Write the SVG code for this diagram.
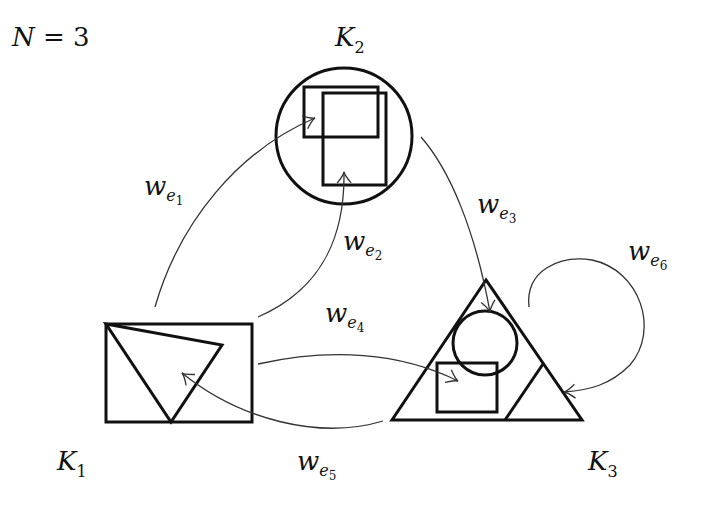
<svg xmlns="http://www.w3.org/2000/svg" width="705" height="516" viewBox="0 0 705 516">
<style>
.s{fill:none;stroke:#111;stroke-width:3}
.c{fill:none;stroke:#333;stroke-width:1.3;marker-end:url(#a)}
.t{font-family:"DejaVu Serif","Liberation Serif",serif;font-style:italic;font-size:26px;fill:#111}
.u{font-family:"DejaVu Serif","Liberation Serif",serif;font-style:italic;font-size:16px;fill:#111}
.d{font-style:normal;font-size:12px}
.n{font-family:"DejaVu Serif","Liberation Serif",serif;font-style:normal;font-size:26px;fill:#111}
</style>
<defs><marker id="a" viewBox="-12 -8 14 16" refX="0" refY="0" markerWidth="14" markerHeight="16" markerUnits="userSpaceOnUse" orient="auto"><path d="M-11,-7 Q-4,-1 0,0 Q-4,1 -11,7" fill="none" stroke="#333" stroke-width="1.3"/></marker></defs>
<rect width="705" height="516" fill="#fff"/>
<g id="K2"><circle class="s" cx="344" cy="136" r="68"/><rect class="s" x="304" y="87" width="74" height="50"/><rect class="s" x="323" y="93" width="63" height="92"/></g>
<g id="K1"><rect class="s" x="106" y="324" width="146" height="98"/><path class="s" d="M106,324 L222,345 L171,422 Z"/></g>
<g id="K3"><path class="s" d="M486,280 L392,420 L582,420 Z"/><circle class="s" cx="485" cy="343" r="32"/><rect class="s" x="437" y="363" width="60" height="49"/><path class="s" d="M505,420 L543,364"/></g>
<g id="connectors">
<path class="c" d="M155,307 C180,220 240,150 315,118"/>
<path class="c" d="M258,317 C320,290 345,240 344,172"/>
<path class="c" d="M421,137 C450,170 475,230 490,312"/>
<path class="c" d="M529,307 C525,270 560,255 592,260 C640,270 660,330 630,365 C610,385 590,390 564,392"/>
<path class="c" d="M258,364 C330,348 400,352 458,381"/>
<path class="c" d="M383,421 C320,440 240,420 182,373"/>
</g>
<g id="labels">
<text class="t" x="12" y="46">N<tspan class="n"> = 3</tspan></text>
<text class="t" x="335" y="46">K<tspan class="u" style="font-style:normal" dy="7">2</tspan></text>
<text class="t" x="57" y="470">K<tspan class="u" style="font-style:normal" dy="7">1</tspan></text>
<text class="t" x="588" y="470">K<tspan class="u" style="font-style:normal" dy="7">3</tspan></text>
<text class="t" x="144" y="195">w<tspan class="u" dy="6">e<tspan class="d" dy="4">1</tspan></tspan></text>
<text class="t" x="343" y="250">w<tspan class="u" dy="6">e<tspan class="d" dy="4">2</tspan></tspan></text>
<text class="t" x="477" y="213">w<tspan class="u" dy="6">e<tspan class="d" dy="4">3</tspan></tspan></text>
<text class="t" x="325" y="322">w<tspan class="u" dy="6">e<tspan class="d" dy="4">4</tspan></tspan></text>
<text class="t" x="297" y="470">w<tspan class="u" dy="6">e<tspan class="d" dy="4">5</tspan></tspan></text>
<text class="t" x="628" y="260">w<tspan class="u" dy="6">e<tspan class="d" dy="4">6</tspan></tspan></text>
</g>
</svg>
